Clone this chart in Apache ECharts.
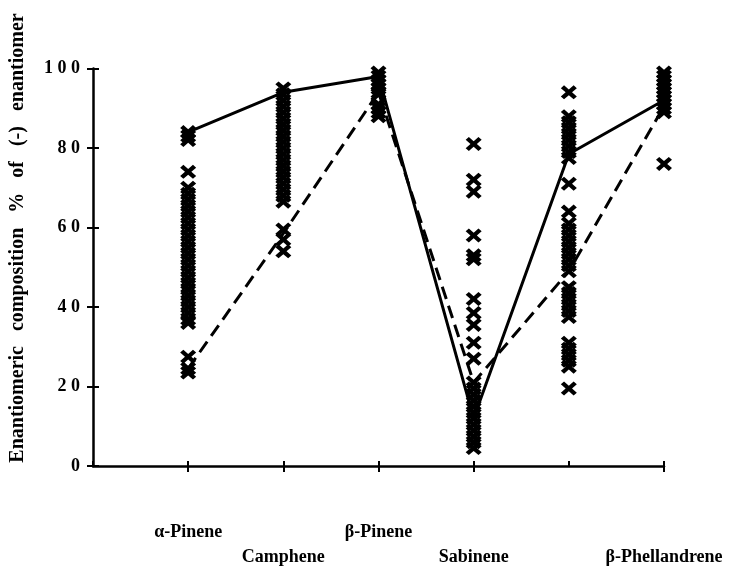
<!DOCTYPE html>
<html><head><meta charset="utf-8">
<script src="https://cdn.jsdelivr.net/npm/echarts@6/dist/echarts.min.js"></script>
<style>html,body{margin:0;padding:0;background:#fff}#c{width:748px;height:570px}</style>
</head><body><div id="c"></div>
<script>
const categories = ['α-Pinene', 'Camphene', 'β-Pinene', 'Sabinene', 'Limonene', 'β-Phellandrene'];
const yTicks = [0, 20, 40, 60, 80, 100];
const alphaPinene = [84, 83, 82, 74, 70, 68.5, 67, 65.5, 64, 62.5, 61, 59.5, 58, 56.5, 55, 53.5, 52, 50.5, 49, 47.5, 46, 44.5, 43, 41.5, 40, 38.5, 37, 36, 27.5, 24.5, 23.5];
const camphene = [95, 93.5, 92, 90.5, 89, 87.5, 86, 84.5, 83, 81.5, 80, 78.5, 77, 75.5, 74, 72.5, 71, 69.5, 68, 66.5, 59.5, 57, 54];
const betaPinene = [99, 98, 97, 96, 95, 94, 93.5, 91, 90, 89, 88];
const sabinene = [81, 72, 69, 58, 53, 52, 42, 38.5, 35.5, 31, 27, 21, 19.5, 18, 16.5, 15, 13.5, 12, 10.5, 9, 7.5, 6, 4.5];
const limonene = [94, 88, 86.5, 85, 83.5, 82, 80.5, 79, 77.5, 71, 64, 61, 59.5, 58, 56.5, 55, 53.5, 52, 50.5, 49, 45, 43.5, 42, 40.5, 39, 37.5, 31, 29.5, 28, 26.5, 25, 19.5];
const betaPhellandrene = [99, 98, 97, 96, 95, 94, 93, 92, 91, 90, 89, 76];
const solidLine = [84, 94, 98, 12, 78.5, 92];
const dashedLine = [24.5, 58.5, 94, 21, 49, 90.5];
const yTitle = 'Enantiomeric   composition   %   of   (-)   enantiomer';

const groups = [alphaPinene, camphene, betaPinene, sabinene, limonene, betaPhellandrene];
const scatterData = [];
groups.forEach((g, i) => g.forEach(v => scatterData.push([i + 1, v])));
const solidData = solidLine.map((v, i) => [i + 1, v]);
const dashedData = dashedLine.map((v, i) => [i + 1, v]);

const font = 'Liberation Serif';
const xSymbol = 'path://M0,2 L2,0 L5,3 L8,0 L10,2 L7,5 L10,8 L8,10 L5,7 L2,10 L0,8 L3,5 Z';

const chart = echarts.init(document.getElementById('c'), null, {renderer: 'canvas'});
chart.setOption({
  backgroundColor: '#fff',
  animation: false,
  grid: {left: 93, right: 84, top: 68.5, bottom: 97, containLabel: false},
  xAxis: [{
    type: 'value', min: 0, max: 6, interval: 1, position: 'bottom',
    axisLine: {show: true, lineStyle: {color: '#000', width: 2.5}},
    axisTick: {show: true, length: 6, lineStyle: {color: '#000', width: 2}},
    splitLine: {show: false},
    axisLabel: {
      show: true, margin: 54, showMinLabel: false, showMaxLabel: true,
      color: '#000', fontFamily: font, fontWeight: 'bold', fontSize: 18, lineHeight: 25,
      formatter: v => {
        if (v < 1 || v > 6) return '';
        const i = v - 1;
        return i % 2 === 0 ? categories[i] + '\n ' : ' \n' + categories[i];
      }
    }
  }, {
    type: 'value', min: 0, max: 6, interval: 1, position: 'bottom',
    axisLine: {show: false},
    axisTick: {show: true, inside: true, length: 5, lineStyle: {color: '#000', width: 2}},
    axisLabel: {show: false}, splitLine: {show: false}
  }],
  yAxis: [{
    type: 'value', min: 0, max: 100, interval: 20, position: 'left',
    axisLine: {show: true, lineStyle: {color: '#000', width: 2.5}},
    axisTick: {show: true, length: 6, lineStyle: {color: '#000', width: 2}},
    splitLine: {show: false},
    axisLabel: {
      margin: 13, color: '#000', fontFamily: font, fontWeight: 'bold', fontSize: 18,
      formatter: v => yTicks.includes(v) ? String(v).split('').join(' ') : ''
    }
  }, {
    type: 'value', min: 0, max: 100, interval: 20, position: 'left',
    axisLine: {show: false},
    axisTick: {show: true, inside: true, length: 6, lineStyle: {color: '#000', width: 2}},
    axisLabel: {show: false}, splitLine: {show: false}
  }],
  graphic: [{
    type: 'text', x: 18, y: 238, rotation: Math.PI / 2,
    style: {
      text: yTitle, fill: '#000', font: 'bold 20px "Liberation Serif"',
      align: 'center', verticalAlign: 'middle', textAlign: 'center', textVerticalAlign: 'middle'
    }
  }],
  series: [{
    type: 'scatter', data: scatterData, symbol: xSymbol, symbolSize: [16, 14],
    itemStyle: {color: '#000', opacity: 1}, z: 3
  }, {
    type: 'line', data: solidData, showSymbol: false, symbol: 'none',
    lineStyle: {color: '#000', width: 3, type: 'solid'}, z: 4
  }, {
    type: 'line', data: dashedData, showSymbol: false, symbol: 'none',
    lineStyle: {color: '#000', width: 3, type: [13, 7]}, z: 4
  }]
});
</script></body></html>
